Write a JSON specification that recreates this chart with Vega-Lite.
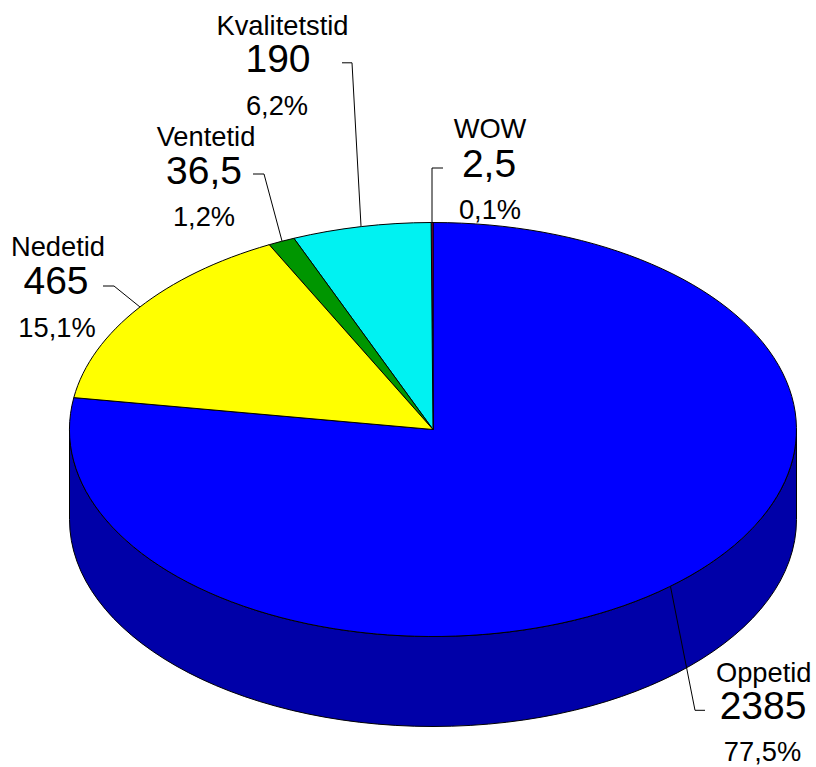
{
  "$schema": "https://vega.github.io/schema/vega-lite/v6.json",
  "width": 816,
  "height": 767,
  "padding": 0,
  "autosize": {"type": "none"},
  "background": "white",
  "view": {"stroke": null},
  "config": {"text": {"font": "Liberation Sans", "color": "#000", "align": "center", "baseline": "alphabetic"}},
  "data": {"values": [
    {"name": "Oppetid", "value": 2385, "valueLabel": "2385", "share": "77,5%"},
    {"name": "WOW", "value": 2.5, "valueLabel": "2,5", "share": "0,1%"},
    {"name": "Kvalitetstid", "value": 190, "valueLabel": "190", "share": "6,2%"},
    {"name": "Ventetid", "value": 36.5, "valueLabel": "36,5", "share": "1,2%"},
    {"name": "Nedetid", "value": 465, "valueLabel": "465", "share": "15,1%"}
  ]},
  "resolve": {"scale": {"shape": "independent", "color": "independent"}},
  "layer": [
    {
      "description": "Rim of the disc, below the top face",
      "transform": [{"filter": "datum.name === 'Oppetid'"}],
      "mark": {"type": "point", "filled": true, "opacity": 1, "size": 4, "color": "#0000a8", "stroke": "#000", "strokeWidth": 1,
        "shape": "M-363.5,0 L-363.5,90 A363.5 207 0 0 0 363.5,90 L363.5,0 A363.5 207 0 0 1 -363.5,0 Z"},
      "encoding": {
        "x": {"datum": 0, "type": "quantitative", "scale": {"domain": [-433, 383], "nice": false, "zero": false}, "axis": null},
        "y": {"datum": 0, "type": "quantitative", "scale": {"domain": [-337.5, 429.5], "nice": false, "zero": false}, "axis": null}
      }
    },
    {
      "description": "Top face wedges, swept clockwise from twelve o'clock by cumulative value on an ellipse",
      "mark": {"type": "point", "filled": true, "opacity": 1, "size": 4, "stroke": "#000", "strokeWidth": 1},
      "encoding": {
        "x": {"datum": 0, "type": "quantitative"},
        "y": {"datum": 0, "type": "quantitative"},
        "color": {"field": "name", "type": "nominal", "legend": null, "scale": {
          "domain": ["Oppetid", "WOW", "Kvalitetstid", "Ventetid", "Nedetid"],
          "range": ["#0000ff", "#c00040", "#00f2f2", "#009600", "#ffff00"]}},
        "shape": {"field": "name", "type": "nominal", "legend": null, "scale": {
          "domain": ["Oppetid", "WOW", "Kvalitetstid", "Ventetid", "Nedetid"],
          "range": [
            "M0,0 L0,-207 A363.5 207 0 1 1 -359.2,-31.9 Z",
            "M0,0 L-1.85,-207 L0,-207 Z",
            "M0,0 L-139.1,-191.2 A363.5 207 0 0 1 -1.85,-207 Z",
            "M0,0 L-163.8,-184.8 A363.5 207 0 0 1 -139.1,-191.2 Z",
            "M0,0 L-359.2,-31.9 A363.5 207 0 0 1 -163.8,-184.8 Z"
          ]}}
      }
    },
    {
      "description": "Leader lines from the disc to each label",
      "mark": {"type": "point", "filled": false, "opacity": 1, "size": 4, "stroke": "#000", "strokeWidth": 1},
      "encoding": {
        "x": {"datum": 0, "type": "quantitative"},
        "y": {"datum": 0, "type": "quantitative"},
        "shape": {"field": "name", "type": "nominal", "legend": null, "scale": {
          "domain": ["Oppetid", "WOW", "Kvalitetstid", "Ventetid", "Nedetid"],
          "range": [
            "M237.5,157 L262,280.8 L272,280.8",
            "M-1,-207.5 L-1,-261.5 L10,-261.5",
            "M-72,-203.5 L-81,-366.7 L-91,-366.7",
            "M-151,-188.5 L-169,-255.5 L-180,-255.5",
            "M-293,-122.5 L-319,-143.5 L-330,-143.5"
          ]}}
      }
    },
    {
      "transform": [{"filter": "datum.name === 'Kvalitetstid'"}],
      "layer": [
        {"mark": {"type": "text", "fontSize": 27.3}, "encoding": {"text": {"field": "name"}, "x": {"datum": -150.5, "type": "quantitative"}, "y": {"datum": 394.5, "type": "quantitative"}}},
        {"mark": {"type": "text", "fontSize": 39}, "encoding": {"text": {"field": "valueLabel"}, "x": {"datum": -155, "type": "quantitative"}, "y": {"datum": 357.5, "type": "quantitative"}}},
        {"mark": {"type": "text", "fontSize": 27.3}, "encoding": {"text": {"field": "share"}, "x": {"datum": -156, "type": "quantitative"}, "y": {"datum": 314.5, "type": "quantitative"}}}
      ]
    },
    {
      "transform": [{"filter": "datum.name === 'Ventetid'"}],
      "layer": [
        {"mark": {"type": "text", "fontSize": 27.3}, "encoding": {"text": {"field": "name"}, "x": {"datum": -227, "type": "quantitative"}, "y": {"datum": 283.5, "type": "quantitative"}}},
        {"mark": {"type": "text", "fontSize": 39}, "encoding": {"text": {"field": "valueLabel"}, "x": {"datum": -229, "type": "quantitative"}, "y": {"datum": 245.5, "type": "quantitative"}}},
        {"mark": {"type": "text", "fontSize": 27.3}, "encoding": {"text": {"field": "share"}, "x": {"datum": -229, "type": "quantitative"}, "y": {"datum": 203.5, "type": "quantitative"}}}
      ]
    },
    {
      "transform": [{"filter": "datum.name === 'Nedetid'"}],
      "layer": [
        {"mark": {"type": "text", "fontSize": 27.3}, "encoding": {"text": {"field": "name"}, "x": {"datum": -375, "type": "quantitative"}, "y": {"datum": 173.5, "type": "quantitative"}}},
        {"mark": {"type": "text", "fontSize": 39}, "encoding": {"text": {"field": "valueLabel"}, "x": {"datum": -377, "type": "quantitative"}, "y": {"datum": 135.5, "type": "quantitative"}}},
        {"mark": {"type": "text", "fontSize": 27.3}, "encoding": {"text": {"field": "share"}, "x": {"datum": -376, "type": "quantitative"}, "y": {"datum": 92.5, "type": "quantitative"}}}
      ]
    },
    {
      "transform": [{"filter": "datum.name === 'WOW'"}],
      "layer": [
        {"mark": {"type": "text", "fontSize": 27.3}, "encoding": {"text": {"field": "name"}, "x": {"datum": 57, "type": "quantitative"}, "y": {"datum": 291.5, "type": "quantitative"}}},
        {"mark": {"type": "text", "fontSize": 39}, "encoding": {"text": {"field": "valueLabel"}, "x": {"datum": 56, "type": "quantitative"}, "y": {"datum": 252.5, "type": "quantitative"}}},
        {"mark": {"type": "text", "fontSize": 27.3}, "encoding": {"text": {"field": "share"}, "x": {"datum": 57, "type": "quantitative"}, "y": {"datum": 210.5, "type": "quantitative"}}}
      ]
    },
    {
      "transform": [{"filter": "datum.name === 'Oppetid'"}],
      "layer": [
        {"mark": {"type": "text", "fontSize": 27.3}, "encoding": {"text": {"field": "name"}, "x": {"datum": 330.7, "type": "quantitative"}, "y": {"datum": -252, "type": "quantitative"}}},
        {"mark": {"type": "text", "fontSize": 39}, "encoding": {"text": {"field": "valueLabel"}, "x": {"datum": 330, "type": "quantitative"}, "y": {"datum": -289, "type": "quantitative"}}},
        {"mark": {"type": "text", "fontSize": 27.3}, "encoding": {"text": {"field": "share"}, "x": {"datum": 329.5, "type": "quantitative"}, "y": {"datum": -331.2, "type": "quantitative"}}}
      ]
    }
  ]
}
